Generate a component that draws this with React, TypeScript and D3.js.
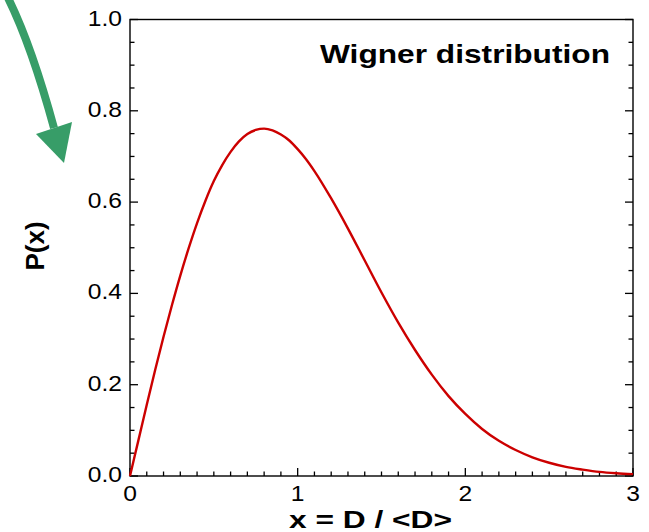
import React from "react";
import * as d3 from "d3";

// Level-spacing distribution P(x) sampled along x = D / <D>
const spacing = [
  0, 0.05, 0.1, 0.15, 0.2, 0.25, 0.3, 0.35, 0.4, 0.45, 0.5, 0.55, 0.6, 0.65, 0.7, 0.75,
  0.8, 0.85, 0.9, 0.95, 1.0, 1.05, 1.1, 1.2, 1.3, 1.4, 1.5, 1.6, 1.7, 1.8, 1.9, 2.0,
  2.1, 2.2, 2.3, 2.4, 2.5, 2.6, 2.7, 2.8, 2.9, 3.0,
];
const probability = [
  0, 0.078, 0.156, 0.232, 0.305, 0.374, 0.439, 0.499, 0.554, 0.603, 0.646, 0.681, 0.71,
  0.733, 0.749, 0.758, 0.761, 0.757, 0.748, 0.735, 0.716, 0.694, 0.668, 0.608, 0.542,
  0.472, 0.402, 0.336, 0.276, 0.222, 0.175, 0.136, 0.103, 0.077, 0.057, 0.041, 0.029,
  0.02, 0.014, 0.009, 0.006, 0.004,
];

const xMajorTicks = [0, 1, 2, 3];
const yMajorTicks = [0, 0.2, 0.4, 0.6, 0.8, 1.0];
const xMinorStep = 0.1;
const yMinorStep = 0.05;

const titleText = "Wigner distribution";
const xAxisTitle = "x = D / <D>";
const yAxisTitle = "P(x)";

const W = 649;
const H = 532;
const plot = { left: 130, right: 633, top: 19.5, bottom: 476 };
const FONT = "Arial, 'Liberation Sans', Helvetica, sans-serif";

export default function App() {
  const x = d3.scaleLinear().domain([0, 3]).range([plot.left, plot.right]);
  const y = d3.scaleLinear().domain([0, 1]).range([plot.bottom, plot.top]);

  const points: [number, number][] = spacing.map((s, i) => [s, probability[i]]);
  const line = d3
    .line<[number, number]>()
    .x((d) => x(d[0]))
    .y((d) => y(d[1]))
    .curve(d3.curveMonotoneX);

  const xMinor = d3.range(0, 3 + 1e-9, xMinorStep).filter(
    (v) => !xMajorTicks.some((m) => Math.abs(m - v) < 1e-6)
  );
  const yMinor = d3.range(0, 1 + 1e-9, yMinorStep).filter(
    (v) => !yMajorTicks.some((m) => Math.abs(m - v) < 1e-6)
  );

  const major = 8;
  const minor = 4.5;
  const green = "#379d68";

  // Curved pointer arrow in the top-left corner
  const shaft = "M5,-8 Q30,40 54,128";
  const head = "M36,134 L72,122 L64,163 Z";

  return (
    <svg
      width={W}
      height={H}
      style={{ position: "fixed", left: 0, top: 0, background: "#fff" }}
      fontFamily={FONT}
    >
      <rect width={W} height={H} fill="#fff" />

      {/* arrow */}
      <path d={shaft} fill="none" stroke={green} strokeWidth={8} />
      <path d={head} fill={green} />

      {/* frame */}
      <rect
        x={plot.left}
        y={plot.top}
        width={plot.right - plot.left}
        height={plot.bottom - plot.top}
        fill="none"
        stroke="#000"
        strokeWidth={1.4}
      />

      {/* bottom ticks */}
      {xMajorTicks.map((v) => (
        <line key={"xM" + v} x1={x(v)} x2={x(v)} y1={plot.bottom} y2={plot.bottom - major} stroke="#000" strokeWidth={1.3} />
      ))}
      {xMinor.map((v) => (
        <line key={"xm" + v} x1={x(v)} x2={x(v)} y1={plot.bottom} y2={plot.bottom - minor} stroke="#000" strokeWidth={1.3} />
      ))}

      {/* left and right ticks */}
      {yMajorTicks.map((v) => (
        <g key={"yM" + v}>
          <line x1={plot.left} x2={plot.left + major} y1={y(v)} y2={y(v)} stroke="#000" strokeWidth={1.3} />
          <line x1={plot.right} x2={plot.right - major} y1={y(v)} y2={y(v)} stroke="#000" strokeWidth={1.3} />
        </g>
      ))}
      {yMinor.map((v) => (
        <g key={"ym" + v}>
          <line x1={plot.left} x2={plot.left + minor} y1={y(v)} y2={y(v)} stroke="#000" strokeWidth={1.3} />
          <line x1={plot.right} x2={plot.right - minor} y1={y(v)} y2={y(v)} stroke="#000" strokeWidth={1.3} />
        </g>
      ))}

      {/* tick labels */}
      {yMajorTicks.map((v) => (
        <text
          key={"yl" + v}
          transform={`translate(122,${y(v) + 6}) scale(1.12,1)`}
          textAnchor="end"
          fontSize={22}
          fill="#000"
        >
          {d3.format(".1f")(v)}
        </text>
      ))}
      {xMajorTicks.map((v) => (
        <text
          key={"xl" + v}
          transform={`translate(${x(v)},501) scale(1.12,1)`}
          textAnchor="middle"
          fontSize={22}
          fill="#000"
        >
          {v}
        </text>
      ))}

      {/* curve */}
      <path d={line(points) ?? ""} fill="none" stroke="#cc0000" strokeWidth={2.4} strokeLinejoin="round" />

      {/* titles */}
      <text
        x={320}
        y={63}
        fontSize={26}
        fontWeight="bold"
        textLength={290}
        lengthAdjust="spacingAndGlyphs"
        fill="#000"
      >
        {titleText}
      </text>
      <text
        x={289}
        y={528}
        fontSize={24}
        fontWeight="bold"
        textLength={163}
        lengthAdjust="spacingAndGlyphs"
        fill="#000"
      >
        {xAxisTitle}
      </text>
      <text
        transform="translate(44,246) rotate(-90)"
        textAnchor="middle"
        fontSize={26}
        fontWeight="bold"
        fill="#000"
      >
        {yAxisTitle}
      </text>
    </svg>
  );
}
